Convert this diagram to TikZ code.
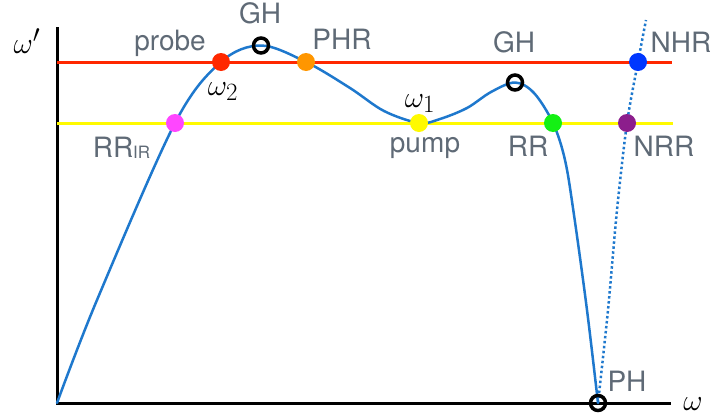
\documentclass[tikz,border=0pt]{standalone}
\usepackage{graphicx}
\usepackage{fontspec}
\setsansfont{TeX Gyre Heros}
\definecolor{curvec}{RGB}{30,120,205}
\definecolor{lblc}{RGB}{95,106,118}
\definecolor{redc}{RGB}{255,40,0}
\definecolor{orangec}{RGB}{255,150,0}
\definecolor{magc}{RGB}{255,70,255}
\definecolor{yelc}{RGB}{255,250,0}
\definecolor{greenc}{RGB}{20,240,20}
\definecolor{bluec}{RGB}{0,55,255}
\definecolor{purpc}{RGB}{140,30,140}
\newcommand{\bigmath}[1]{\scalebox{1.2}{$#1$}}
\begin{document}
\begin{tikzpicture}[x=1pt,y=-1pt,
  lbl/.style={text=lblc, font=\sffamily\fontsize{28}{30}\selectfont, inner sep=0pt, anchor=base},
  mth/.style={font=\fontsize{24.88}{26}\selectfont, inner sep=0pt, anchor=base},
  dot/.style={circle, fill=#1, minimum size=18pt, inner sep=0pt},
  ring/.style={circle, draw=black, line width=3.5pt, minimum size=15pt, inner sep=0pt},
  axis/.style={line width=3pt, black},
  level/.style={line width=3pt, draw=#1},
  curveline/.style={line width=2.5pt, curvec, line cap=round, line join=round}]
\useasboundingbox (0,0) rectangle (713,418);
% axes
\coordinate (O) at (57,403);
\coordinate (Ytop) at (57,27);
\coordinate (Xend) at (671,403);
\draw[axis] (Ytop) -- (O) -- (Xend);
% level lines
\coordinate (R0) at (57,62);
\coordinate (R1) at (672,62);
\coordinate (Y0) at (57,123);
\coordinate (Y1) at (673,123);
\draw[level=redc] (R0) -- (R1);
\draw[level=yelc] (Y0) -- (Y1);
% key points
\coordinate (pRRIR) at (175,123);
\coordinate (pW2) at (221,62);
\coordinate (pGH1) at (261,45.5);
\coordinate (pPHR) at (306,62);
\coordinate (pPump) at (419,123);
\coordinate (pGH2) at (515,82.5);
\coordinate (pRR) at (553,123);
\coordinate (pPH) at (598,403);
\coordinate (pNRR) at (627,123);
\coordinate (pNHR) at (638,62);
\coordinate (pTop) at (646,20);
% dispersion curve
\draw[curveline] plot[smooth, tension=0.55] coordinates {
  (O) (97,300) (pRRIR) (pW2) (pGH1) (pPHR)
  (350,88) (384,111) (pPump) (440,119) (467,108) (491,92) (pGH2) (534,93) (pRR) (565,160) (574,215) (587,310) (pPH)};
% negative branch
\draw[line width=2.5pt, curvec, dash pattern=on 2.5pt off 2.5pt] plot[smooth, tension=0.5] coordinates {
  (pPH) (608,310) (617,210) (pNRR) (pNHR) (pTop)};
% dots
\node[dot=magc] (RRIR) at (pRRIR) {};
\node[dot=redc] (W2) at (pW2) {};
\node[dot=orangec] (PHR) at (pPHR) {};
\node[dot=yelc] (Pump) at (pPump) {};
\node[dot=greenc] (RR) at (pRR) {};
\node[dot=purpc] (NRR) at (pNRR) {};
\node[dot=bluec] (NHR) at (pNHR) {};
\node[ring] (GH1) at (pGH1) {};
\node[ring] (GH2) at (pGH2) {};
\node[ring] (PH) at (pPH) {};
% labels
\node[mth] (lwp) at (27,53) {\bigmath{\omega'}};
\node[mth] (lw) at (693,410) {\bigmath{\omega}};
\node[lbl] (lprobe) at (170,50) {probe};
\node[mth] (lw2) at (223,95) {\bigmath{\omega_2}};
\node[lbl] (lGH1) at (260,23.5) {GH};
\node[lbl] (lPHR) at (342,49.5) {PHR};
\node[lbl] (lRRIR) at (121.5,157) {RR{\fontsize{17}{17}\selectfont\raisebox{-1.5pt}{IR}}};
\node[mth] (lw1) at (420,107) {\bigmath{\omega_1}};
\node[lbl] (lpump) at (425,152) {pump};
\node[lbl] (lGH2) at (514,52.5) {GH};
\node[lbl] (lRR) at (528,156) {RR};
\node[lbl] (lNHR) at (681,52.5) {NHR};
\node[lbl] (lNRR) at (664,156) {NRR};
\node[lbl] (lPH) at (627,391.5) {PH};
\end{tikzpicture}
\end{document}
